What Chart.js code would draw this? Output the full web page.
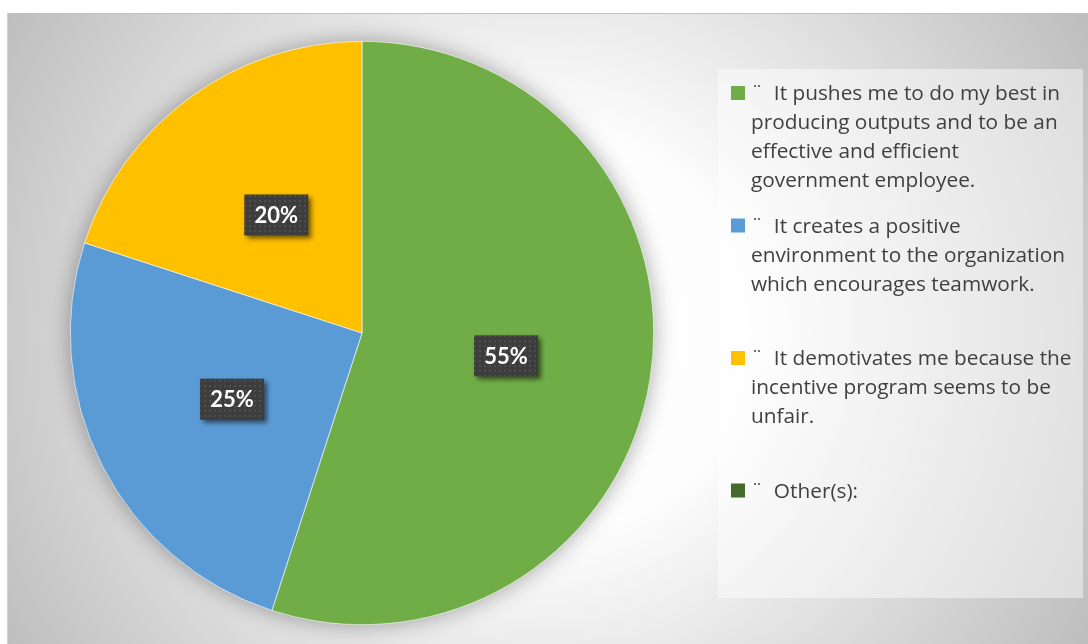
<!DOCTYPE html>
<html>
<head>
<meta charset="utf-8">
<title>Incentive program perception</title>
<script src="https://cdn.jsdelivr.net/npm/chart.js@4.4.1/dist/chart.umd.min.js"></script>
<style>
  html, body { margin: 0; padding: 0; background: #ffffff; }
  #marco {
    position: absolute;
    left: 7px;
    top: 13px;
    width: 1081px;
    height: 631px;
    border-top: 1px solid #c0c0c0;
    border-left: 1px solid #d0d0d0;
    box-sizing: border-box;
  }
</style>
</head>
<body>
<div id="marco"><canvas id="graficaPastel"></canvas></div>
<script>
// categorias (cada una ya partida en renglones para la leyenda)
const categorias = [
    ["¨  It pushes me to do my best in", "producing outputs and to be an", "effective and efficient", "government employee."],
    ["¨  It creates a positive", "environment to the organization", "which encourages teamwork."],
    ["¨  It demotivates me because the", "incentive program seems to be", "unfair."],
    ["¨  Other(s):"]
];
const porcentajes = [55, 25, 20, 0];
const colores = ['#70ad47', '#5b9bd5', '#ffc000', '#476b2c'];

const FUENTE_LEYENDA = '"Open Sans", "Noto Sans", sans-serif';
const FUENTE_ETIQUETA = 'Lato, "Open Sans", sans-serif';

// fondo degradado del area completa
const fondoPlugin = {
    id: 'fondo',
    beforeDraw(chart) {
        const { ctx, width, height } = chart;
        const g = ctx.createRadialGradient(537, 318, 0, 537, 318, 630);
        g.addColorStop(0, '#ffffff');
        g.addColorStop(0.32, '#fdfdfd');
        g.addColorStop(1, '#bdbdbd');
        ctx.save();
        ctx.fillStyle = g;
        ctx.fillRect(0, 0, width, height);
        ctx.restore();
    }
};

// sombra suave alrededor del pastel
const sombraPlugin = {
    id: 'sombra',
    beforeDatasetsDraw(chart) {
        const arco = chart.getDatasetMeta(0).data[0];
        if (!arco) return;
        const { ctx } = chart;
        ctx.save();
        ctx.shadowColor = 'rgba(0,0,0,0.35)';
        ctx.shadowBlur = 22;
        ctx.fillStyle = '#cccccc';
        ctx.beginPath();
        ctx.arc(arco.x, arco.y, arco.outerRadius, 0, Math.PI * 2);
        ctx.fill();
        ctx.restore();
    }
};

// etiquetas de porcentaje en cajas oscuras punteadas
function crearTrama(ctx) {
    const c = document.createElement('canvas');
    c.width = 5;
    c.height = 5;
    const p = c.getContext('2d');
    p.fillStyle = '#3d3d3d';
    p.fillRect(0, 0, 5, 5);
    p.fillStyle = '#4e4e4e';
    p.fillRect(1, 1, 2, 2);
    return ctx.createPattern(c, 'repeat');
}

const etiquetasPlugin = {
    id: 'etiquetas',
    afterDatasetsDraw(chart) {
        const { ctx } = chart;
        const meta = chart.getDatasetMeta(0);
        const datos = chart.data.datasets[0].data;
        const trama = crearTrama(ctx);
        meta.data.forEach((arco, i) => {
            if (!datos[i]) return;
            const pos = arco.tooltipPosition();
            const w = 64, h = 41;
            ctx.save();
            ctx.shadowColor = 'rgba(0,0,0,0.55)';
            ctx.shadowBlur = 5;
            ctx.shadowOffsetX = 3;
            ctx.shadowOffsetY = 3;
            ctx.fillStyle = trama;
            ctx.fillRect(pos.x - w / 2, pos.y - h / 2, w, h);
            ctx.restore();

            ctx.save();
            ctx.fillStyle = '#ffffff';
            ctx.font = 'bold 22px ' + FUENTE_ETIQUETA;
            ctx.textAlign = 'center';
            ctx.textBaseline = 'middle';
            ctx.fillText(datos[i] + '%', pos.x, pos.y + 1);
            ctx.restore();
        });
    }
};

// leyenda a la derecha con renglones
const leyendaPlugin = {
    id: 'leyendaDerecha',
    afterDraw(chart) {
        const { ctx } = chart;
        const cajaX = 710, cajaY = 55, cajaW = 365, cajaH = 529;
        ctx.save();
        ctx.fillStyle = 'rgba(255,255,255,0.45)';
        ctx.fillRect(cajaX, cajaY, cajaW, cajaH);

        const colorFondo = chart.data.datasets[0].backgroundColor;
        ctx.font = '20.8px ' + FUENTE_LEYENDA;
        ctx.textBaseline = 'alphabetic';
        ctx.textAlign = 'left';
        chart.data.labels.forEach((lineas, i) => {
            const base = 86 + i * 132.5;
            ctx.fillStyle = colorFondo[i];
            ctx.fillRect(723, base - 14, 14, 14);
            ctx.fillStyle = '#404040';
            lineas.forEach((linea, j) => {
                ctx.fillText(linea, 743, base + j * 29);
            });
        });
        ctx.restore();
    }
};

window.onload = function () {
    const ctx = document.getElementById('graficaPastel').getContext('2d');

    new Chart(ctx, {
        type: 'pie',
        data: {
            labels: categorias,
            datasets: [{
                data: porcentajes,
                backgroundColor: colores,
                borderColor: '#ffffff',
                borderWidth: 0.6
            }]
        },
        options: {
            responsive: true,
            maintainAspectRatio: false,
            animation: false,
            layout: {
                padding: { left: 62, top: 27, right: 434, bottom: 19 }
            },
            plugins: {
                legend: { display: false },
                tooltip: { enabled: false }
            }
        },
        plugins: [fondoPlugin, sombraPlugin, etiquetasPlugin, leyendaPlugin]
    });
};
</script>
</body>
</html>
